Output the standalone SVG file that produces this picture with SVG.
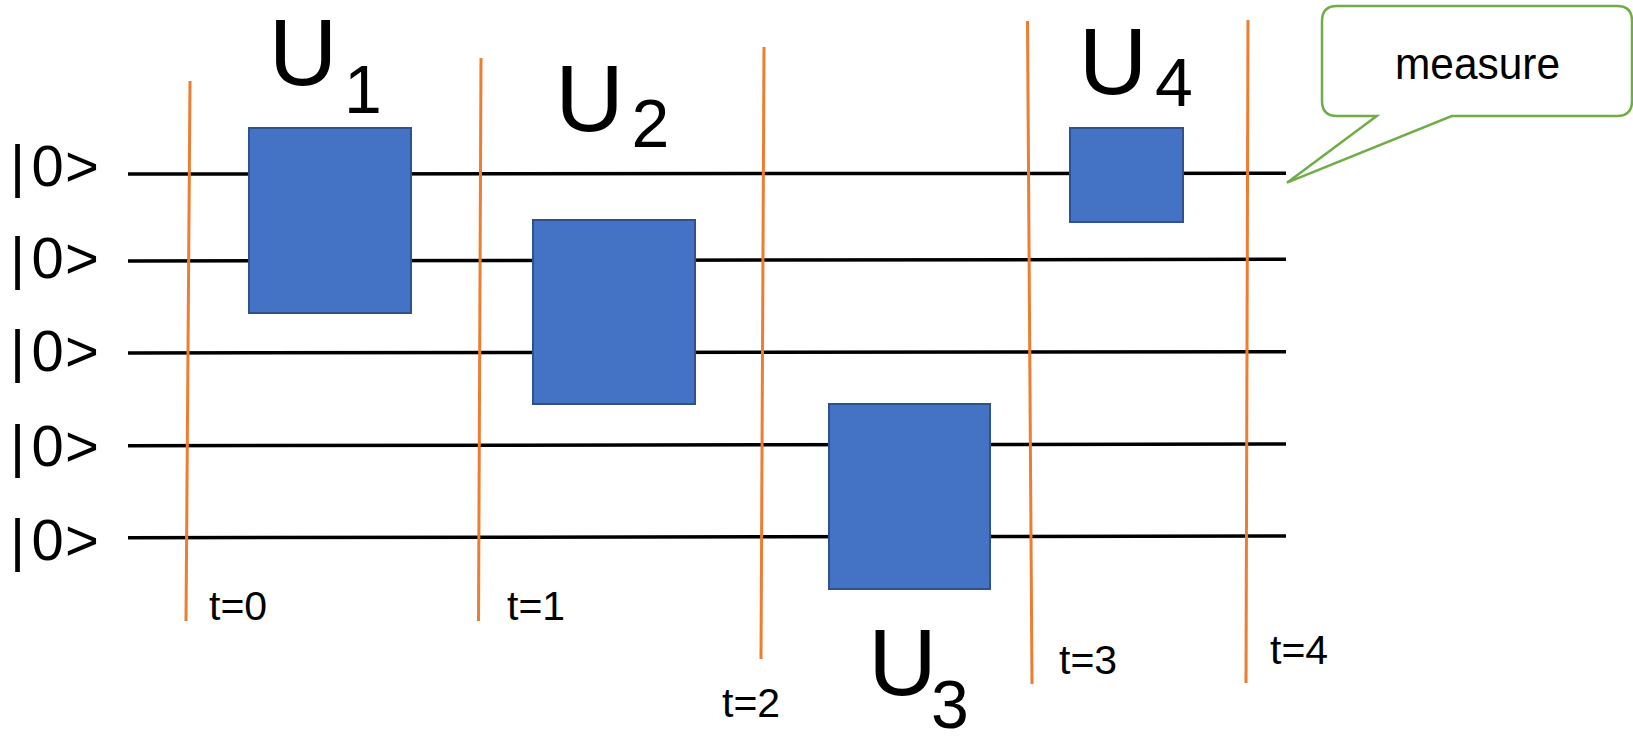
<svg xmlns="http://www.w3.org/2000/svg" width="1633" height="743" viewBox="0 0 1633 743">
<style>
.wire{stroke:#000;stroke-width:3.5;fill:none}
.tline{stroke:#ED7D31;stroke-width:3;fill:none}
.gate{fill:#4472C4;stroke:#2F528F;stroke-width:2}
.lbl{font-family:"Liberation Sans",Arial,sans-serif;fill:#000}
.U{font-size:95px;text-anchor:middle}
.sub{font-size:68px;text-anchor:middle}
.ket{font-size:58px}
.t{font-size:41px}
.callout{fill:#fff;stroke:#70AD47;stroke-width:2.5;stroke-linejoin:miter}
</style>
<rect width="1633" height="743" fill="#fff"/>
<g id="connectors">
  <g id="wires">
    <line class="wire" x1="128" y1="174" x2="1286" y2="173.3"/>
    <line class="wire" x1="128" y1="261" x2="1286" y2="259.3"/>
    <line class="wire" x1="128" y1="353" x2="1286" y2="351.7"/>
    <line class="wire" x1="128" y1="445.7" x2="1286" y2="444"/>
    <line class="wire" x1="128" y1="537.7" x2="1286" y2="536"/>
  </g>
  <g id="timelines">
    <line class="tline" x1="190" y1="81" x2="186" y2="621"/>
    <line class="tline" x1="481" y1="58" x2="478.5" y2="621"/>
    <line class="tline" x1="764" y1="47" x2="761" y2="659"/>
    <line class="tline" x1="1027.5" y1="21" x2="1032" y2="684"/>
    <line class="tline" x1="1248" y1="20" x2="1246" y2="683"/>
  </g>
</g>
<g id="ket-labels" class="lbl ket">
  <text id="ket1" x="10 31.5 65" y="186">|0&gt;</text>
  <text id="ket2" x="10 31.5 65" y="278">|0&gt;</text>
  <text id="ket3" x="10 31.5 65" y="371">|0&gt;</text>
  <text id="ket4" x="10 31.5 65" y="466">|0&gt;</text>
  <text id="ket5" x="10 31.5 65" y="560">|0&gt;</text>
</g>
<g id="gate-U1">
  <rect class="gate" x="249" y="128" width="162" height="185"/>
  <text class="lbl U" x="303" y="85">U</text>
  <text class="lbl sub" x="363" y="113">1</text>
</g>
<g id="gate-U2">
  <rect class="gate" x="533" y="220" width="162" height="184"/>
  <text class="lbl U" x="589.5" y="131">U</text>
  <text class="lbl sub" x="650.5" y="147">2</text>
</g>
<g id="gate-U3">
  <rect class="gate" x="829" y="404" width="161" height="185"/>
  <text class="lbl U" x="902.5" y="695">U</text>
  <text class="lbl sub" x="950" y="728">3</text>
</g>
<g id="gate-U4">
  <rect class="gate" x="1070" y="128" width="113" height="94"/>
  <text class="lbl U" x="1113" y="94">U</text>
  <text class="lbl sub" x="1174" y="106">4</text>
</g>
<g id="time-labels" class="lbl t">
  <text id="t0" x="209" y="620">t=0</text>
  <text id="t1" x="507" y="620">t=1</text>
  <text id="t2" x="722" y="717">t=2</text>
  <text id="t3" x="1059" y="674">t=3</text>
  <text id="t4" x="1270" y="664">t=4</text>
</g>
<g id="measure-callout">
  <path class="callout" d="M1337,6 H1617 Q1632,6 1632,21 V101 Q1632,116 1617,116 H1451.7 L1287,182.7 L1376.7,116 H1337 Q1322,116 1322,101 V21 Q1322,6 1337,6 Z"/>
  <text class="lbl" x="1477.5" y="78.5" font-size="45" text-anchor="middle" textLength="165" lengthAdjust="spacingAndGlyphs">measure</text>
</g>
</svg>
